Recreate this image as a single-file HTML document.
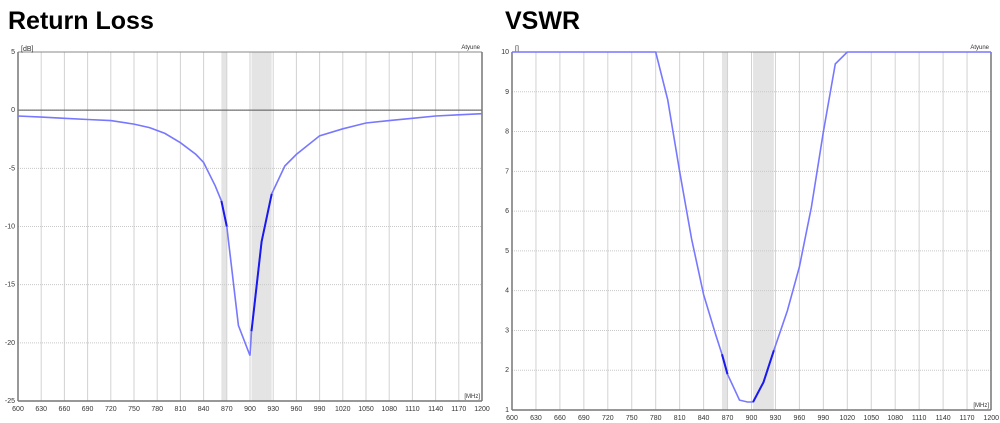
<!DOCTYPE html>
<html><head><meta charset="utf-8"><style>
body{margin:0;background:#fff;width:1000px;height:423px;overflow:hidden;font-family:"Liberation Sans",sans-serif}
svg{position:absolute;left:0;top:0}
</style></head><body>
<svg id="s" width="1000" height="423" xmlns="http://www.w3.org/2000/svg">
<text x="8" y="29" font-family="Liberation Sans, sans-serif" font-weight="bold" font-size="25">Return Loss</text>
<text x="505" y="29" font-family="Liberation Sans, sans-serif" font-weight="bold" font-size="25">VSWR</text>
</svg>
<script>
const s=document.getElementById('s');const NS='http://www.w3.org/2000/svg';
function el(t,a,txt){const e=document.createElementNS(NS,t);for(const k in a)e.setAttribute(k,a[k]);if(txt!==undefined)e.textContent=txt;s.appendChild(e);return e;}
function chart(o){
 const X=f=>o.x0+(f-600)*(o.x1-o.x0)/600, Y=v=>o.y0+(o.ymax-v)*(o.y1-o.y0)/(o.ymax-o.ymin);
 el('rect',{x:X(863),y:o.y0,width:X(870)-X(863),height:o.y1-o.y0,fill:'#e4e4e4'});
 el('rect',{x:X(902),y:o.y0,width:X(928)-X(902),height:o.y1-o.y0,fill:'#e4e4e4'});
 for(let f=630;f<1200;f+=30)el('line',{x1:X(f),x2:X(f),y1:o.y0,y2:o.y1,stroke:'#d2d2d2','stroke-width':1});
 for(const v of o.yt){if(v!=o.ymin&&v!=o.ymax)el('line',{x1:o.x0,x2:o.x1,y1:Y(v),y2:Y(v),stroke:'#c8c8c8','stroke-dasharray':'1,1'});}
 if(o.zero)el('line',{x1:o.x0,x2:o.x1,y1:Y(0),y2:Y(0),stroke:'#555','stroke-width':1});
 el('line',{x1:o.x0,x2:o.x1,y1:o.y0,y2:o.y0,stroke:'#888'});
 el('line',{x1:o.x0,x2:o.x0,y1:o.y0,y2:o.y1,stroke:'#777','stroke-width':1.5});
 el('line',{x1:o.x0,x2:o.x1,y1:o.y1,y2:o.y1,stroke:'#777','stroke-width':1.5});
 el('line',{x1:o.x1,x2:o.x1,y1:o.y0,y2:o.y1,stroke:'#777','stroke-width':1.5});
 for(const v of o.yt)el('text',{x:o.x0-3,y:Y(v)+2,'font-size':7,'text-anchor':'end',fill:'#333'},String(v));
 for(let f=600;f<=1200;f+=30){
   if(f==1200&&o.clip)el('text',{x:999,y:o.y1+10,'font-size':7,'text-anchor':'end',fill:'#333'},'1200');
   else el('text',{x:X(f),y:o.y1+10,'font-size':7,'text-anchor':'middle',fill:'#333'},String(f));}
 el('text',{x:o.x0+3,y:o.y0-1,'font-size':7,fill:'#333'},o.unit);
 el('text',{x:o.x1-2,y:o.y0-3,'font-size':6,'text-anchor':'end',fill:'#333'},'Atyune');
 el('text',{x:o.x1-2,y:o.y1-3,'font-size':6,'text-anchor':'end',fill:'#333'},'[MHz]');
 const p=o.d.map(a=>X(a[0]).toFixed(1)+','+Y(a[1]).toFixed(1)).join(' ');
 el('polyline',{points:p,fill:'none',stroke:'#7777ff','stroke-width':1.6});
 for(const [a,b] of [[863,870],[902,928]]){const q=o.d.filter(d=>d[0]>=a&&d[0]<=b).map(d=>X(d[0]).toFixed(1)+','+Y(d[1]).toFixed(1)).join(' ');el('polyline',{points:q,fill:'none',stroke:'#1a1aee','stroke-width':2});}
}
chart({x0:18,x1:482,y0:52,y1:401,ymin:-25,ymax:5,yt:[5,0,-5,-10,-15,-20,-25],zero:true,unit:'[dB]',
d:[[600,-0.5],[630,-0.6],[660,-0.7],[690,-0.8],[720,-0.9],[750,-1.2],[770,-1.5],[790,-2],[810,-2.8],[830,-3.8],[840,-4.5],[855,-6.5],[863,-7.8],[870,-10],[885,-18.5],[900,-21.1],[902,-19],[915,-11.3],[928,-7.2],[945,-4.8],[960,-3.8],[990,-2.2],[1020,-1.6],[1050,-1.1],[1080,-0.9],[1110,-0.7],[1140,-0.5],[1170,-0.4],[1200,-0.3]]});
chart({x0:512,x1:991,y0:52,y1:410,ymin:1,ymax:10,yt:[10,9,8,7,6,5,4,3,2,1],zero:false,unit:'[]',clip:true,
d:[[600,10],[780,10],[795,8.8],[810,7],[825,5.3],[840,3.9],[855,2.9],[863,2.4],[870,1.9],[885,1.25],[895,1.2],[902,1.2],[915,1.7],[928,2.5],[945,3.5],[960,4.6],[975,6.1],[990,8],[1005,9.7],[1020,10],[1200,10]]});
</script>
</body></html>
